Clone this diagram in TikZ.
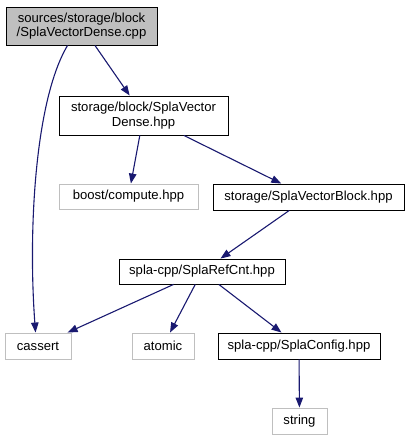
\documentclass[tikz,border=0pt]{standalone}
\usepackage{fontspec}
\setmainfont{Liberation Sans}
\usetikzlibrary{arrows.meta}
\definecolor{edgeblue}{HTML}{191970}
\definecolor{lgray}{HTML}{BFBFBF}
\begin{document}
\begin{tikzpicture}[x=1pt,y=-1pt,
  box/.style={draw=black,line width=0.9pt,inner sep=0pt,align=center,font=\fontsize{13.1}{14.5}\selectfont,text=black},
  gbox/.style={box,draw=lgray},
  dep/.style={draw=edgeblue,line width=1.1pt,-{Triangle[length=10pt,width=7.5pt]},color=edgeblue}]
\useasboundingbox (0,0) rectangle (412,440);
\node[box,fill=lgray,minimum width=151pt,minimum height=38pt] (root) at (81.5,26) {sources/storage/block\\/SplaVectorDense.cpp};
\node[box,minimum width=169pt,minimum height=39pt] (dense) at (143.5,115.5) {storage/block/SplaVector\\Dense.hpp};
\node[gbox,minimum width=139pt,minimum height=25pt] (boost) at (128.5,196.5) {boost/compute.hpp};
\node[box,minimum width=191pt,minimum height=26pt] (vblock) at (308.5,197) {storage/SplaVectorBlock.hpp};
\node[box,minimum width=166pt,minimum height=25pt] (refcnt) at (202,271.5) {spla-cpp/SplaRefCnt.hpp};
\node[gbox,minimum width=66pt,minimum height=26pt] (cassert) at (38,346) {cassert};
\node[gbox,minimum width=62pt,minimum height=26pt] (atomic) at (163,346) {atomic};
\node[box,minimum width=162pt,minimum height=26pt] (config) at (299,346) {spla-cpp/SplaConfig.hpp};
\node[gbox,minimum width=55pt,minimum height=26pt] (string) at (299.5,421) {string};
\coordinate (rootout) at ([xshift=62pt]root.south west);
\coordinate (cassin) at ([xshift=31pt]cassert.north west);
\draw[dep] (rootout) .. controls (35,100) and (28,230) .. (cassin);
\draw[dep] (root) -- (dense);
\draw[dep] (dense) -- (boost);
\draw[dep] (dense) -- (vblock);
\draw[dep] (vblock) -- (refcnt);
\draw[dep] (refcnt) -- (cassert);
\draw[dep] (refcnt) -- (atomic);
\draw[dep] (refcnt) -- (config);
\draw[dep] (config) -- (string);
\end{tikzpicture}
\end{document}
